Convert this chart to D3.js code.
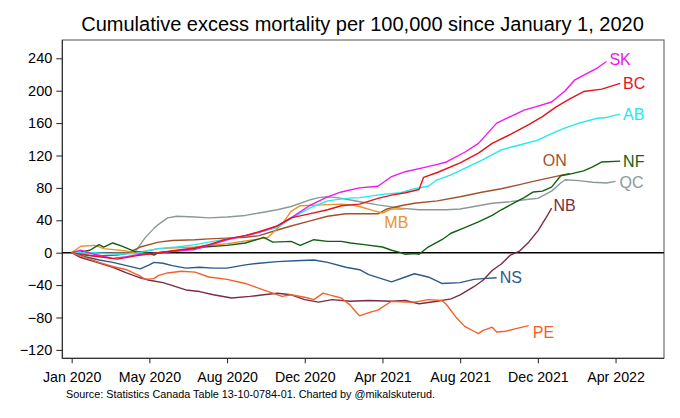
<!DOCTYPE html>
<html><head><meta charset="utf-8">
<script src="https://cdn.jsdelivr.net/npm/d3@7"></script>
<style>
body{margin:0;background:#fff}
text{font-family:Arial,"Liberation Sans",Helvetica,sans-serif}
</style>
</head><body>
<svg id="chart" width="680" height="418"></svg>
<script>
// ---- data: [week since 2020-01-04, cumulative excess deaths per 100,000] ----
const tickWeeks = [0, 17, 34, 51, 68, 85, 102, 119];
const yTicks = [-120, -80, -40, 0, 40, 80, 120, 160, 200, 240];

const QC = [[0,0],[5,-1],[12,0],[14,2],[16,18],[18,30],[19,35],[21,43],[23,45],[27,44],[30,43],[34,44],[38,46],[41,49],[45,53],[48,57],[52,65],[54,68],[56,69],[58,68],[61,65],[64,62],[67,59],[72,55],[76,53],[78,53],[82,53],[85,54],[89,58],[92,61],[96,63],[100,66],[102,67],[105,76],[107,86],[108,90],[111,89],[114,87],[117,86],[119,88]];
const ON = [[0,0],[5,-4],[10,-3],[12,-1],[15,7],[19,13],[22,15],[27,16],[30,17],[34,18],[38,19],[41,21],[45,28],[48,33],[52,39],[56,45],[60,48],[63,48],[67,48],[69,54],[72,58],[75,61],[80,64],[85,69],[90,75],[94,79],[98,84],[101,88],[105,93],[109,98]];
const MB = [[0,0],[2,8],[5,9],[7,5],[12,2],[14,0],[19,5],[27,7],[34,11],[41,17],[43,19],[46,35],[48,51],[50,58],[55,59],[59,60],[61,59],[63,57],[66,52],[68,49],[70,54],[73,54]];
const NF = [[0,0],[2,1],[4,3],[6,10],[7,7],[9,12],[11,8],[14,1],[16,1],[18,-3],[19,0],[24,3],[29,7],[34,9],[38,12],[41,17],[42,19],[44,13],[48,14],[50,9],[53,16],[56,14],[59,14],[61,12],[64,10],[68,7],[70,3],[72,0],[73,-2],[75,-1],[76,-2],[78,7],[81,16],[83,24],[86,31],[89,38],[92,46],[94,53],[97,62],[99,68],[101,75],[103,76],[105,81],[107,95],[109,97],[112,101],[114,106],[116,112],[120,113]];
const AB = [[0,0],[5,0],[10,-2],[14,-1],[19,5],[23,7],[27,10],[30,13],[34,17],[38,21],[41,25],[45,31],[48,42],[52,55],[56,64],[60,67],[63,68],[68,72],[72,74],[75,79],[78,82],[80,90],[83,96],[86,104],[90,115],[94,127],[98,133],[102,139],[105,147],[108,154],[111,160],[115,166],[117,167],[120,171]];
const SK = [[0,0],[2,3],[5,-2],[9,-7],[12,-5],[15,-2],[19,0],[23,2],[27,4],[30,9],[34,16],[38,21],[41,25],[45,33],[48,43],[52,58],[56,69],[59,75],[63,80],[67,82],[70,94],[73,100],[77,105],[80,109],[82,112],[86,124],[89,135],[93,160],[96,168],[99,176],[102,181],[105,186],[108,200],[110,213],[113,222],[115,228],[117,236]];
const BC = [[0,0],[3,-3],[6,-5],[10,-8],[14,-4],[19,0],[23,3],[27,6],[30,10],[34,17],[38,21],[41,26],[45,33],[48,43],[52,48],[56,53],[59,58],[63,60],[67,67],[70,71],[73,74],[76,78],[77,93],[80,99],[85,111],[89,123],[92,135],[96,146],[100,158],[103,168],[106,180],[109,190],[112,199],[116,202],[120,209]];
const NS = [[0,0],[3,-5],[6,-9],[9,-12],[12,-16],[15,-20],[17,-15],[18,-12],[20,-13],[22,-16],[25,-19],[28,-18],[31,-19],[34,-19],[38,-15],[41,-13],[45,-11],[49,-10],[53,-9],[56,-12],[60,-18],[63,-21],[65,-27],[70,-36],[73,-30],[75,-26],[78,-30],[81,-38],[85,-37],[88,-33],[90,-32],[93,-31]];
const NB = [[0,0],[2,-6],[5,-11],[9,-18],[12,-25],[15,-31],[17,-34],[20,-37],[25,-46],[28,-48],[31,-52],[35,-56],[39,-54],[42,-52],[45,-50],[48,-52],[51,-58],[54,-61],[57,-58],[61,-60],[65,-59],[70,-60],[73,-59],[76,-63],[80,-60],[83,-57],[85,-52],[88,-42],[90,-34],[92,-22],[94,-14],[96,-3],[98,2],[100,13],[102,27],[104,45],[105,55]];
const PE = [[0,0],[3,-6],[6,-12],[9,-17],[12,-21],[15,-29],[16,-33],[18,-32],[19,-28],[21,-25],[24,-23],[27,-24],[30,-30],[34,-33],[38,-38],[41,-44],[44,-50],[46,-54],[48,-52],[51,-55],[53,-58],[55,-50],[57,-53],[59,-56],[61,-65],[62,-72],[63,-78],[65,-74],[67,-71],[70,-60],[73,-61],[75,-61],[78,-58],[81,-59],[82,-64],[84,-79],[86,-91],[88,-97],[89,-100],[90,-96],[91,-94],[92,-92],[93,-98],[95,-97],[97,-94],[100,-90]];

const seriesNames = ["QC","ON","MB","NF","AB","SK","BC","NS","NB","PE"];
const seriesData = {QC, ON, MB, NF, AB, SK, BC, NS, NB, PE};

// ---- styles ----
const colors = {QC:"#8c9898", ON:"#a0522d", MB:"#e8942a", NF:"#116011", AB:"#25e8ee",
  SK:"#ee18ee", BC:"#e5141c", NS:"#2d5a86", NB:"#7b2c40", PE:"#f2612a"};
const labelPos = { // offsets from last point
  QC:{dx:4,dy:1,anchor:"start"}, ON:{dx:-3,dy:-13,anchor:"end"}, MB:{dx:-9,dy:14,anchor:"middle"},
  NF:{dx:3,dy:0,anchor:"start"}, AB:{dx:3,dy:0,anchor:"start"}, SK:{dx:3,dy:-2,anchor:"start"},
  BC:{dx:3,dy:0,anchor:"start"}, NS:{dx:3,dy:0,anchor:"start"}, NB:{dx:2,dy:-3,anchor:"start"},
  PE:{dx:4,dy:7,anchor:"start"} };

const svg = d3.select("#chart");
const W = 680, H = 418;
const plot = {left:62.3, right:664, top:40, bottom:358.3};

const t0 = Date.UTC(2020,0,4);
const wk = w => new Date(t0 + w*7*86400000);

const x = d3.scaleTime().domain([wk(-2.05), wk(129.6)]).range([plot.left, plot.right]);
const y = d3.scaleLinear().domain([-130.4, 262.6]).range([plot.bottom, plot.top]);

svg.append("rect").attr("width",W).attr("height",H).attr("fill","#fff");

// frame
svg.append("rect").attr("x",plot.left).attr("y",plot.top)
  .attr("width",plot.right-plot.left).attr("height",plot.bottom-plot.top)
  .attr("fill","none").attr("stroke","#555").attr("stroke-width",1);

// title
svg.append("text").attr("x",362.5).attr("y",31).attr("text-anchor","middle")
  .attr("font-size","20px").attr("fill","#000")
  .text("Cumulative excess mortality per 100,000 since January 1, 2020");

// y axis
const yAxis = svg.append("g").attr("transform",`translate(${plot.left},0)`)
  .call(d3.axisLeft(y).tickValues(yTicks).tickSize(6).tickPadding(4).tickFormat(d3.format("d")));
yAxis.select(".domain").attr("stroke","#222").attr("d",`M0,${plot.top}V${plot.bottom}`);
yAxis.selectAll(".tick line").attr("stroke","#222");
yAxis.selectAll("text").attr("font-size","14.5px").attr("fill","#000").attr("font-family","Arial, 'Liberation Sans', sans-serif");

// x axis
const xAxis = svg.append("g").attr("transform",`translate(0,${plot.bottom})`)
  .call(d3.axisBottom(x).tickValues(tickWeeks.map(wk)).tickSize(5).tickPadding(9).tickFormat(d3.utcFormat("%b %Y")));
xAxis.select(".domain").attr("stroke","#222").attr("d",`M${plot.left},0H${plot.right}`);
xAxis.selectAll(".tick line").attr("stroke","#222");
xAxis.selectAll("text").attr("font-size","14.2px").attr("fill","#000").attr("font-family","Arial, 'Liberation Sans', sans-serif");

// zero line
svg.append("line").attr("x1",plot.left).attr("x2",plot.right)
  .attr("y1",y(0)).attr("y2",y(0)).attr("stroke","#000").attr("stroke-width",1.4);

// lines
const line = d3.line().x(d => x(wk(d[0]))).y(d => y(d[1]));
const g = svg.append("g");
seriesNames.forEach(name => {
  g.append("path").datum(seriesData[name]).attr("d",line)
    .attr("fill","none").attr("stroke",colors[name]).attr("stroke-width",1.4)
    .attr("stroke-linejoin","round");
});
// labels
seriesNames.forEach(name => {
  const d = seriesData[name], last = d[d.length-1], p = labelPos[name];
  svg.append("text").attr("x",x(wk(last[0]))+p.dx).attr("y",y(last[1])+p.dy)
    .attr("dominant-baseline","central").attr("text-anchor",p.anchor)
    .attr("font-size","16px").attr("fill",colors[name]).text(name);
});

// source
svg.append("text").attr("x",66).attr("y",398).attr("font-size","10.8px").attr("fill","#000")
  .text("Source: Statistics Canada Table 13-10-0784-01. Charted by @mikalskuterud.");
</script>
</body></html>
